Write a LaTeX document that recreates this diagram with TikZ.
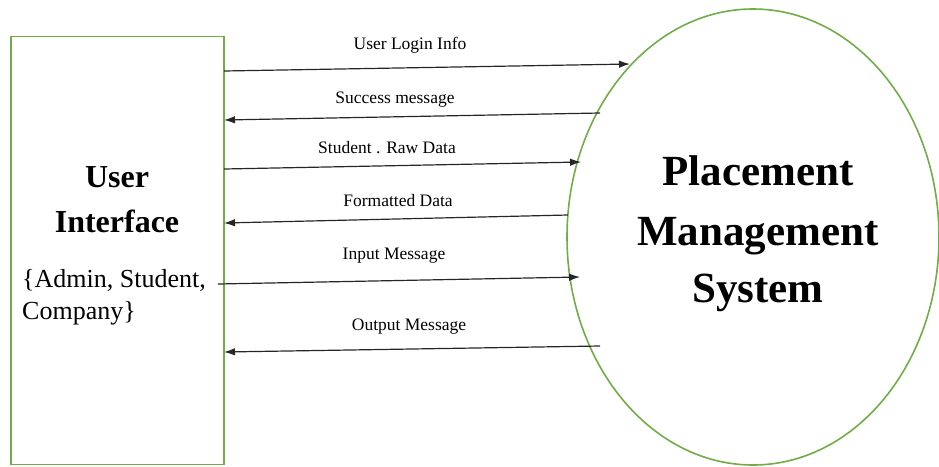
\documentclass[tikz,border=0pt]{standalone}
\usepackage{fontspec}
\setmainfont{Liberation Serif}
\newfontfamily\dfdfont{Liberation Serif}[BoldFont={Liberation Serif Bold}]
\usetikzlibrary{arrows.meta,shapes.geometric}
\definecolor{dfdGreen}{HTML}{70AD47}
\tikzstyle{flow}=[-{Latex[length=11pt,width=7.5pt]}, line width=1.2pt, draw=black!85]
\tikzstyle{entityBox}=[rectangle, draw=dfdGreen, line width=1.7pt, minimum width=213pt, minimum height=428pt, inner sep=0pt, outer sep=0pt]
\tikzstyle{processE}=[ellipse, draw=dfdGreen, line width=1.6pt, minimum width=372pt, minimum height=456pt, inner sep=0pt, outer sep=0pt]
\tikzstyle{flowLbl}=[anchor=base, inner sep=0pt]
\tikzstyle{entityTitle}=[anchor=base, inner sep=0pt]
\tikzstyle{entityRole}=[anchor=base west, inner sep=0pt]
\tikzstyle{processTitle}=[anchor=base, inner sep=0pt]

\begin{document}
\begin{tikzpicture}[x=1pt, y=-1pt]
      \useasboundingbox (0,0) rectangle (939,466);
      \node(ui) [entityBox] at (117.5,250.5){};
      \node(pms) [processE] at (753,237){};
      \node(uiA) [entityTitle] at (117,187){\dfdfont\fontsize{32}{36}\selectfont\bfseries User};
      \node(uiB) [entityTitle] at (117,232){\dfdfont\fontsize{32}{36}\selectfont\bfseries Interface};
      \node(roleA) [entityRole] at (22,287){\dfdfont\fontsize{26}{30}\selectfont \{Admin, Student,};
      \node(roleB) [entityRole] at (22,319){\dfdfont\fontsize{26}{30}\selectfont Company\}};
      \node(pmsA) [processTitle] at (758,185){\dfdfont\fontsize{43}{50}\selectfont\bfseries Placement};
      \node(pmsB) [processTitle] at (758,245){\dfdfont\fontsize{43}{50}\selectfont\bfseries Management};
      \node(pmsC) [processTitle] at (758,302){\dfdfont\fontsize{43}{50}\selectfont\bfseries System};
      \coordinate (uiOut1) at (224,71);
      \coordinate (pmsIn1) at (630,64);
      \coordinate (pmsOut2) at (600,113);
      \coordinate (uiIn2) at (224,120);
      \coordinate (uiOut3) at (224,169);
      \coordinate (pmsIn3) at (581,162);
      \coordinate (pmsOut4) at (568,215);
      \coordinate (uiIn4) at (224,223);
      \coordinate (uiOut5) at (218,284);
      \coordinate (pmsIn5) at (580,277);
      \coordinate (pmsOut6) at (600,346);
      \coordinate (uiIn6) at (224,352);
      \draw[flow] (uiOut1) to (pmsIn1);
      \draw[flow] (pmsOut2) to (uiIn2);
      \draw[flow] (uiOut3) to (pmsIn3);
      \draw[flow] (pmsOut4) to (uiIn4);
      \draw[flow] (uiOut5) to (pmsIn5);
      \draw[flow] (pmsOut6) to (uiIn6);
      \node(lbl1) [flowLbl] at (410,49){\dfdfont\fontsize{17.5}{20}\selectfont User Login Info};
      \node(lbl2) [flowLbl] at (395,103){\dfdfont\fontsize{17.5}{20}\selectfont Success message};
      \node(lbl3) [flowLbl] at (387,153){\dfdfont\fontsize{17.5}{20}\selectfont Student . Raw Data};
      \node(lbl4) [flowLbl] at (398,206){\dfdfont\fontsize{17.5}{20}\selectfont Formatted Data};
      \node(lbl5) [flowLbl] at (394,259){\dfdfont\fontsize{17.5}{20}\selectfont Input Message};
      \node(lbl6) [flowLbl] at (409,330){\dfdfont\fontsize{17.5}{20}\selectfont Output Message};
    \end{tikzpicture}
\end{document}
